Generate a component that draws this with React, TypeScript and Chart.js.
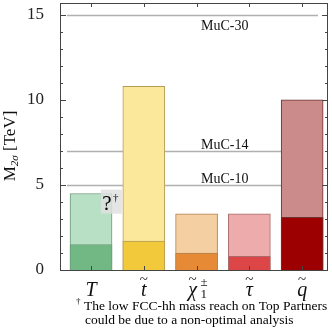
import React, { useEffect, useRef } from 'react';
import { Chart, registerables } from 'chart.js';

Chart.register(...registerables);

const categories = ['T', 't', 'χ', 'τ', 'q'];
const hasTilde = [false, true, true, true, true];
const totalReach = [4.5, 10.8, 3.3, 3.3, 10.0];
const lowerReach = [1.5, 1.7, 1.0, 0.8, 3.1];
const lightColors = ['#b7e0c5', '#fbe89b', '#f3cfa2', '#eeabab', '#cc8b8b'];
const darkColors = ['#71b885', '#f1c93a', '#e68a35', '#dd4646', '#9c0000'];
const edgeColors = ['#6f9a7b', '#b39d55', '#b08250', '#a86a6a', '#6e3030'];
const refValues = [15, 7, 5];
const refLabels = ['MuC-30', 'MuC-14', 'MuC-10'];
const yTicks = [0, 5, 10, 15];
const footnoteLines = [
  'The low FCC-hh mass reach on Top Partners',
  'could be due to a non-optimal analysis',
];

const SERIF = '"Liberation Serif", "DejaVu Serif", serif';

const decorPlugin = {
  id: 'decor',
  beforeDatasetsDraw(chart: any) {
    const { ctx, chartArea: a, scales } = chart;
    const y = scales.y;
    ctx.save();
    ctx.strokeStyle = '#b0b0b0';
    ctx.lineWidth = 1.5;
    refValues.forEach((v) => {
      const py = Math.round(y.getPixelForValue(v)) + 0.5;
      ctx.beginPath();
      ctx.moveTo(a.left + 7, py);
      ctx.lineTo(a.right - 10, py);
      ctx.stroke();
    });
    ctx.restore();
  },
  afterDatasetsDraw(chart: any) {
    const { ctx, chartArea: a, scales } = chart;
    const x = scales.x;
    const y = scales.y;
    ctx.save();
    // reference labels
    ctx.fillStyle = '#111';
    ctx.font = `14px ${SERIF}`;
    ctx.textAlign = 'left';
    refValues.forEach((v, i) => {
      const py = y.getPixelForValue(v);
      if (i === 0) {
        ctx.textBaseline = 'top';
        ctx.fillText(refLabels[i], 201, py + 4);
      } else {
        ctx.textBaseline = 'alphabetic';
        ctx.fillText(refLabels[i], 201, py - 2);
      }
    });

    // ?† annotation
    const qx = x.getPixelForValue(0.3);
    const qy = y.getPixelForValue(3.9);
    ctx.fillStyle = 'rgba(225,225,225,0.85)';
    ctx.fillRect(qx - 6, qy - 14, 21, 24);
    ctx.fillStyle = '#000';
    ctx.textBaseline = 'alphabetic';
    ctx.textAlign = 'center';
    ctx.font = `21px ${SERIF}`;
    ctx.fillText('?', qx, qy + 6);
    ctx.font = `11px ${SERIF}`;
    ctx.fillText('†', qx + 9, qy - 3);

    // frame
    ctx.strokeStyle = '#444';
    ctx.lineWidth = 1;
    ctx.strokeRect(Math.round(a.left) + 0.5, Math.round(a.top) + 0.5, Math.round(a.right - a.left) - 1, Math.round(a.bottom - a.top));
    // y ticks inward
    for (let v = 0; v <= 15; v++) {
      const py = Math.round(y.getPixelForValue(v)) + 0.5;
      const len = v % 5 === 0 ? 6 : 3;
      ctx.beginPath();
      ctx.moveTo(a.left, py);
      ctx.lineTo(a.left + len, py);
      ctx.moveTo(a.right, py);
      ctx.lineTo(a.right - len, py);
      ctx.stroke();
    }
    categories.forEach((_, i) => {
      const px = Math.round(x.getPixelForValue(i)) + 0.5;
      ctx.beginPath();
      ctx.moveTo(px, a.top);
      ctx.lineTo(px, a.top + 4);
      ctx.moveTo(px, a.bottom);
      ctx.lineTo(px, a.bottom - 4);
      ctx.stroke();
    });

    // x category labels
    ctx.fillStyle = '#111';
    categories.forEach((c, i) => {
      const px = x.getPixelForValue(i);
      const base = 296;
      ctx.textAlign = 'center';
      ctx.textBaseline = 'alphabetic';
      ctx.font = `italic 20px ${SERIF}`;
      ctx.fillText(c, px - (i === 2 ? 4 : 0), base);
      if (hasTilde[i]) {
        ctx.font = `15px ${SERIF}`;
        ctx.fillText('~', px - (i === 2 ? 4 : 0), base - 12);
      }
      if (i === 2) {
        ctx.font = `13px ${SERIF}`;
        ctx.textAlign = 'left';
        ctx.fillText('±', px + 4, base - 10);
        ctx.fillText('1', px + 4, base + 2);
      }
    });

    // y title
    ctx.save();
    ctx.translate(15, 146);
    ctx.rotate(-Math.PI / 2);
    ctx.textAlign = 'left';
    ctx.textBaseline = 'alphabetic';
    const big = `17px ${SERIF}`;
    const small = `italic 11px ${SERIF}`;
    ctx.font = big;
    const wM = ctx.measureText('M').width;
    const wT = ctx.measureText(' [TeV]').width;
    ctx.font = small;
    const wS = ctx.measureText('2σ').width;
    let cx = -(wM + wS + wT) / 2;
    ctx.font = big;
    ctx.fillText('M', cx, 0);
    cx += wM;
    ctx.font = small;
    ctx.fillText('2σ', cx, 3);
    cx += wS;
    ctx.font = big;
    ctx.fillText(' [TeV]', cx, 0);
    ctx.restore();

    // footnote
    ctx.fillStyle = '#000';
    ctx.textAlign = 'left';
    ctx.textBaseline = 'alphabetic';
    ctx.font = `9px ${SERIF}`;
    ctx.fillText('†', 76, 304);
    ctx.font = `13.5px ${SERIF}`;
    ctx.fillText(footnoteLines[0], 84, 310);
    ctx.fillText(footnoteLines[1], 85, 324);
    ctx.restore();
  },
};

export default function App() {
  const canvasRef = useRef<HTMLCanvasElement>(null);

  useEffect(() => {
    const canvas = canvasRef.current;
    if (!canvas) return;
    const chart = new Chart(canvas, {
      type: 'bar',
      data: {
        datasets: [
          {
            label: 'lower',
            data: lowerReach.map((v, i) => ({ x: i, y: v })),
            backgroundColor: darkColors,
            borderColor: edgeColors,
            borderWidth: 1,
            barThickness: 42,
            grouped: false,
            order: 0,
          } as any,
          {
            label: 'total',
            data: totalReach.map((v, i) => ({ x: i, y: v })),
            backgroundColor: lightColors,
            borderColor: edgeColors,
            borderWidth: 1,
            barThickness: 42,
            grouped: false,
            order: 1,
          } as any,
        ],
      },
      options: {
        responsive: false,
        animation: false,
        layout: { padding: { top: 3, right: 4, left: 0, bottom: 0 } },
        plugins: { legend: { display: false }, tooltip: { enabled: false } },
        scales: {
          x: {
            type: 'linear',
            offset: false,
            min: -0.588,
            max: 4.49,
            grid: { display: false },
            border: { display: false },
            ticks: { display: false },
            afterBuildTicks: (s: any) => {
              s.ticks = categories.map((_, i) => ({ value: i }));
            },
            afterFit: (s: any) => {
              s.height = 60;
              s.paddingLeft = 0;
              s.paddingRight = 0;
            },
          },
          y: {
            min: 0,
            max: 15.7,
            grid: { display: false },
            border: { display: false },
            afterBuildTicks: (s: any) => {
              s.ticks = yTicks.map((v) => ({ value: v }));
            },
            ticks: {
              padding: 8,
              color: '#222',
              font: { family: SERIF, size: 17 },
            },
            afterFit: (s: any) => {
              s.width = 60;
              s.paddingTop = 0;
              s.paddingBottom = 0;
            },
          },
        },
      },
      plugins: [decorPlugin],
    });
    return () => chart.destroy();
  }, []);

  return (
    <div style={{ position: 'fixed', left: 0, top: 0, width: 332, height: 330, background: '#fff' }}>
      <canvas ref={canvasRef} width={332} height={330} style={{ display: 'block' }} />
    </div>
  );
}
